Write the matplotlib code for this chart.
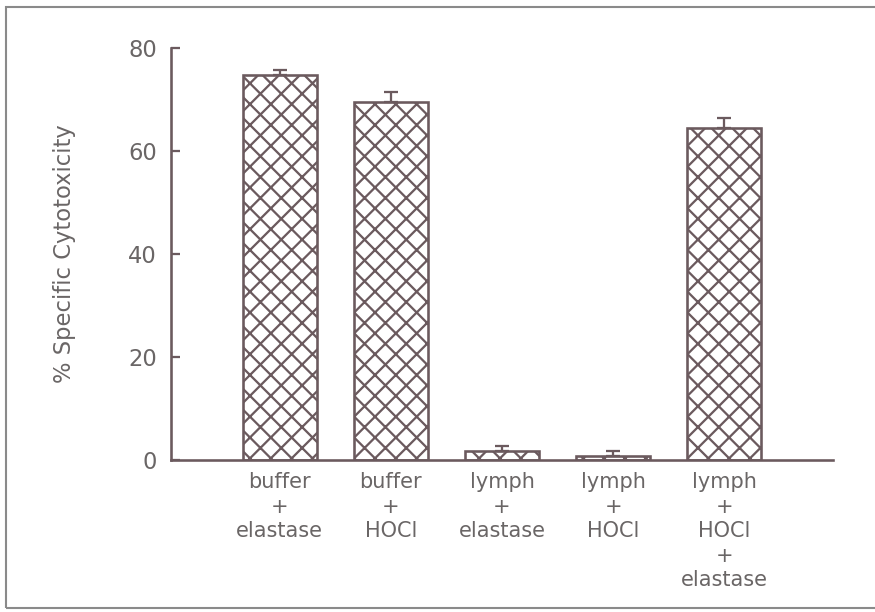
import numpy as np
import matplotlib.pyplot as plt
from matplotlib.patches import Rectangle

labels = ['buffer\n+\nelastase', 'buffer\n+\nHOCl', 'lymph\n+\nelastase',
          'lymph\n+\nHOCl', 'lymph\n+\nHOCl\n+\nelastase']
means = [74.8, 69.6, 1.7, 0.8, 64.4]
errs = [0.9, 1.9, 1.0, 0.9, 2.0]

ink = '#6b5a5e'
txt = '#6a6666'

plt.rcParams['hatch.linewidth'] = 1.3
plt.rcParams['hatch.color'] = ink

fig = plt.figure(figsize=(7, 4.896), dpi=125)
ax = fig.add_axes([0.1954, 0.2484, 0.7566, 0.6732])

# scanned page frame
fig.patches.append(Rectangle((0.007, 0.007), 1.1, 0.981, transform=fig.transFigure,
                             fill=False, edgecolor='#8a8a8a', lw=1.2))

ind = np.arange(len(means))
ax.bar(ind, means, 0.67, color='white', edgecolor=ink, hatch='xx', linewidth=1.5,
       yerr=[np.zeros(len(errs)), errs], capsize=4,
       error_kw=dict(ecolor=ink, elinewidth=1.3, capthick=1.3))

ax.set_xlim(-0.98, 4.98)
ax.set_ylim(0, 80)
ax.set_yticks([0, 20, 40, 60, 80])
ax.set_xticks(ind)
ax.set_xticklabels(labels, fontsize=12, color=txt, linespacing=1.28)
ax.tick_params(axis='x', length=0, pad=7)
ax.tick_params(axis='y', direction='in', length=5, width=1.3, color=ink,
               labelsize=13, labelcolor=txt, pad=8)
ax.set_ylabel('% Specific Cytotoxicity', fontsize=13, color=txt, labelpad=30)

for s in ['top', 'right']:
    ax.spines[s].set_visible(False)
for s in ['left', 'bottom']:
    ax.spines[s].set_color(ink)
    ax.spines[s].set_linewidth(1.5)

fig.savefig('out.png', dpi=125)
